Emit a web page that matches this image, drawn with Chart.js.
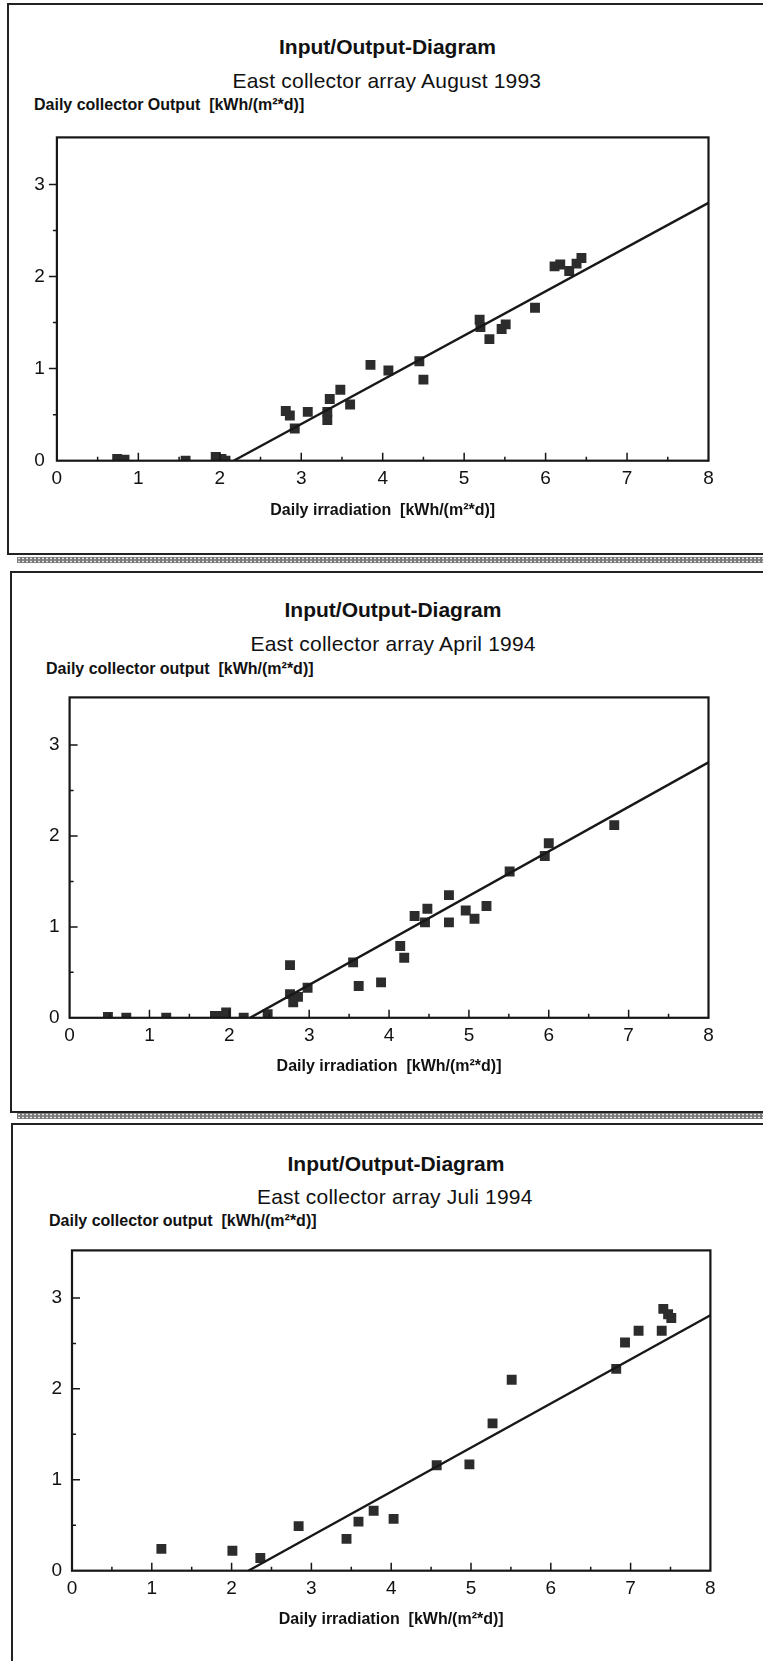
<!DOCTYPE html>
<html>
<head>
<meta charset="utf-8">
<script src="https://cdn.jsdelivr.net/npm/chart.js@4.4.1/dist/chart.umd.min.js"></script>
<style>
body { margin:0; background:#fff; width:763px; height:1661px; position:relative; overflow:hidden;
       font-family:"Liberation Sans", Arial, sans-serif; color:#111; }
.panel { position:absolute; border-left:2px solid #222; border-top:2px solid #222; border-bottom:2px solid #222; width:800px; }
.hatch { position:absolute; left:17px; width:760px; height:6px; background-color:#7a7a7a;
         background-image:radial-gradient(circle, #e8e8e8 0.7px, transparent 1.2px); background-size:4px 3px; }
.txt { position:absolute; white-space:pre; line-height:1; }
.title { font-weight:bold; font-size:21px; }
.sub { font-size:21px; letter-spacing:0.2px; }
.ylab { font-weight:bold; font-size:16px; }
canvas { position:absolute; left:0; }
</style>
</head>
<body>

<div class="panel" style="left:7px; top:3px; height:548px;"></div>
<div class="hatch" style="top:557px;"></div>
<div class="panel" style="left:10px; top:571px; height:538px;"></div>
<div class="hatch" style="top:1113px;"></div>
<div class="panel" style="left:11px; top:1123px; height:600px;"></div>

<div class="txt title" id="t1"></div>
<div class="txt sub" id="s1"></div>
<div class="txt ylab" id="y1"></div>
<div class="txt title" id="t2"></div>
<div class="txt sub" id="s2"></div>
<div class="txt ylab" id="y2"></div>
<div class="txt title" id="t3"></div>
<div class="txt sub" id="s3"></div>
<div class="txt ylab" id="y3"></div>

<canvas id="c1"></canvas>
<canvas id="c2"></canvas>
<canvas id="c3"></canvas>

<script>
// East collector array, August 1993
var aug93X = [0.74, 0.83, 1.58, 1.95, 2.02, 2.07, 2.81, 2.86, 2.92, 3.08, 3.32, 3.32, 3.35, 3.48, 3.60,
              3.85, 4.07, 4.45, 4.50, 5.19, 5.20, 5.31, 5.46, 5.51, 5.87, 6.11, 6.18, 6.29, 6.38, 6.44];
var aug93Y = [0.02, 0.01, 0.00, 0.04, 0.02, 0.00, 0.54, 0.49, 0.35, 0.53, 0.53, 0.44, 0.67, 0.77, 0.61,
              1.04, 0.98, 1.08, 0.88, 1.53, 1.45, 1.32, 1.43, 1.48, 1.66, 2.11, 2.13, 2.06, 2.14, 2.20];
var aug93FitX = [2.17, 8];
var aug93FitY = [0, 2.80];

// East collector array, April 1994
var apr94X = [0.48, 0.71, 1.21, 1.82, 1.90, 1.96, 2.18, 2.48, 2.76, 2.76, 2.80, 2.86, 2.98, 3.55, 3.62,
              3.90, 4.14, 4.19, 4.32, 4.45, 4.48, 4.75, 4.75, 4.96, 5.07, 5.22, 5.51, 5.95, 6.00, 6.82];
var apr94Y = [0.01, 0.00, 0.00, 0.02, 0.02, 0.06, 0.00, 0.04, 0.58, 0.26, 0.17, 0.23, 0.33, 0.61, 0.35,
              0.39, 0.79, 0.66, 1.12, 1.05, 1.20, 1.35, 1.05, 1.18, 1.09, 1.23, 1.61, 1.78, 1.92, 2.12];
var apr94FitX = [2.26, 8];
var apr94FitY = [0, 2.81];

// East collector array, Juli 1994
var jul94X = [1.12, 2.01, 2.36, 2.84, 3.44, 3.59, 3.78, 4.03, 4.57, 4.98, 5.27, 5.51, 6.82, 6.93, 7.10,
              7.39, 7.41, 7.47, 7.51];
var jul94Y = [0.24, 0.22, 0.14, 0.49, 0.35, 0.54, 0.66, 0.57, 1.16, 1.17, 1.62, 2.10, 2.22, 2.51, 2.64,
              2.64, 2.88, 2.82, 2.78];
var jul94FitX = [2.21, 8];
var jul94FitY = [0, 2.81];

var xTicksMax = 8;
var yAxisMax = [3.51, 3.525, 3.523];

var mainTitle = "Input/Output-Diagram";
var subTitles = ["East collector array August 1993", "East collector array April 1994", "East collector array Juli 1994"];
var yTitles = ["Daily collector Output  [kWh/(m²*d)]", "Daily collector output  [kWh/(m²*d)]", "Daily collector output  [kWh/(m²*d)]"];
var xTitle = "Daily irradiation  [kWh/(m²*d)]";

// plot boxes on the page (px)
var boxes = [
    { left: 56.9, right: 708.5, top: 124.3, bottom: 460.7, xTitle: 510.5, yTickOut: true,
      titleC: [387.5, 46], subC: [387, 80.3], yLab: [34, 105] },
    { left: 69.6, right: 708.5, top: 686.4, bottom: 1017.8, xTitle: 1066.6, yTickOut: false,
      titleC: [393, 609], subC: [393, 643.5], yLab: [46, 668.5] },
    { left: 72.0, right: 710.4, top: 1239.3, bottom: 1570.7, xTitle: 1619.6, yTickOut: false,
      titleC: [396, 1162.8], subC: [395, 1196.3], yLab: [49, 1221] }
];

function placeText(id, text, cx, cy, fs, centered) {
    var el = document.getElementById(id);
    el.textContent = text;
    el.style.top = (cy - 0.49 * fs) + "px";
    if (centered) {
        el.style.left = (cx - el.offsetWidth / 2) + "px";
    } else {
        el.style.left = cx + "px";
    }
}

var frame = {
    id: 'frame',
    afterDatasetsDraw: function (chart) {
        var ctx = chart.ctx, a = chart.chartArea, x = chart.scales.x, y = chart.scales.y;
        var out = chart.options.plugins.frame.yTickOut;
        ctx.save();
        ctx.strokeStyle = '#161616';
        ctx.lineWidth = 2.2;
        ctx.strokeRect(a.left, a.top, a.right - a.left, a.bottom - a.top);
        ctx.lineWidth = 1.5;
        ctx.beginPath();
        for (var v = 0.5; v < x.max; v += 0.5) {
            var px = x.getPixelForValue(v);
            var len = (v % 1 === 0) ? 8 : 4;
            ctx.moveTo(px, a.bottom);
            ctx.lineTo(px, a.bottom - len);
        }
        for (var w = 0.5; w <= 3; w += 0.5) {
            var py = y.getPixelForValue(w);
            var l2 = (w % 1 === 0) ? 8 : 4;
            ctx.moveTo(a.left, py);
            ctx.lineTo(out ? a.left - l2 : a.left + l2, py);
        }
        ctx.stroke();
        ctx.restore();
    }
};

function drawChart(n, xs, ys, fitX, fitY) {
    var b = boxes[n];
    var cTop = Math.round(b.top) - 10;
    var cBottom = Math.round(b.xTitle + 10);
    var canvas = document.getElementById("c" + (n + 1));
    canvas.width = 763;
    canvas.height = cBottom - cTop;
    canvas.style.top = cTop + "px";
    var xHeight = cBottom - b.bottom;

    var points = [];
    for (var i = 0; i < xs.length; i++) points.push({ x: xs[i], y: ys[i] });
    var fit = [];
    for (var j = 0; j < fitX.length; j++) fit.push({ x: fitX[j], y: fitY[j] });

    new Chart(canvas, {
        type: 'scatter',
        data: {
            datasets: [{
                data: fit,
                showLine: true,
                borderColor: '#181818',
                borderWidth: 2.4,
                pointRadius: 0
            }, {
                data: points,
                pointStyle: 'rect',
                pointRadius: 7,
                backgroundColor: '#2c2c2c',
                borderWidth: 0
            }]
        },
        options: {
            responsive: false,
            animation: false,
            devicePixelRatio: 1,
            layout: { padding: { left: 0, top: b.top - cTop, right: 763 - b.right, bottom: 0 } },
            plugins: {
                legend: { display: false },
                tooltip: { enabled: false },
                frame: { yTickOut: b.yTickOut }
            },
            scales: {
                x: {
                    type: 'linear', min: 0, max: xTicksMax,
                    grid: { display: false, drawTicks: false },
                    border: { display: false },
                    ticks: { stepSize: 1, padding: 7, color: '#111',
                             font: { family: 'Liberation Sans', size: 19 } },
                    title: { display: true, text: xTitle, color: '#111', padding: { top: 0, bottom: cBottom - 9.6 - b.xTitle },
                             font: { family: 'Liberation Sans', size: 16, weight: 'bold' } },
                    afterFit: function (s) { s.height = xHeight; }
                },
                y: {
                    type: 'linear', min: 0, max: yAxisMax[n],
                    grid: { display: false, drawTicks: false },
                    border: { display: false },
                    ticks: { stepSize: 1, includeBounds: false, padding: b.yTickOut ? 12 : 10, color: '#111',
                             font: { family: 'Liberation Sans', size: 19 } },
                    afterFit: function (s) { s.width = b.left; }
                }
            }
        },
        plugins: [frame]
    });

    placeText("t" + (n + 1), mainTitle, b.titleC[0], b.titleC[1], 21, true);
    placeText("s" + (n + 1), subTitles[n], b.subC[0], b.subC[1], 21, true);
    placeText("y" + (n + 1), yTitles[n], b.yLab[0], b.yLab[1], 16, false);
}

drawChart(0, aug93X, aug93Y, aug93FitX, aug93FitY);
drawChart(1, apr94X, apr94Y, apr94FitX, apr94FitY);
drawChart(2, jul94X, jul94Y, jul94FitX, jul94FitY);
</script>
</body>
</html>
